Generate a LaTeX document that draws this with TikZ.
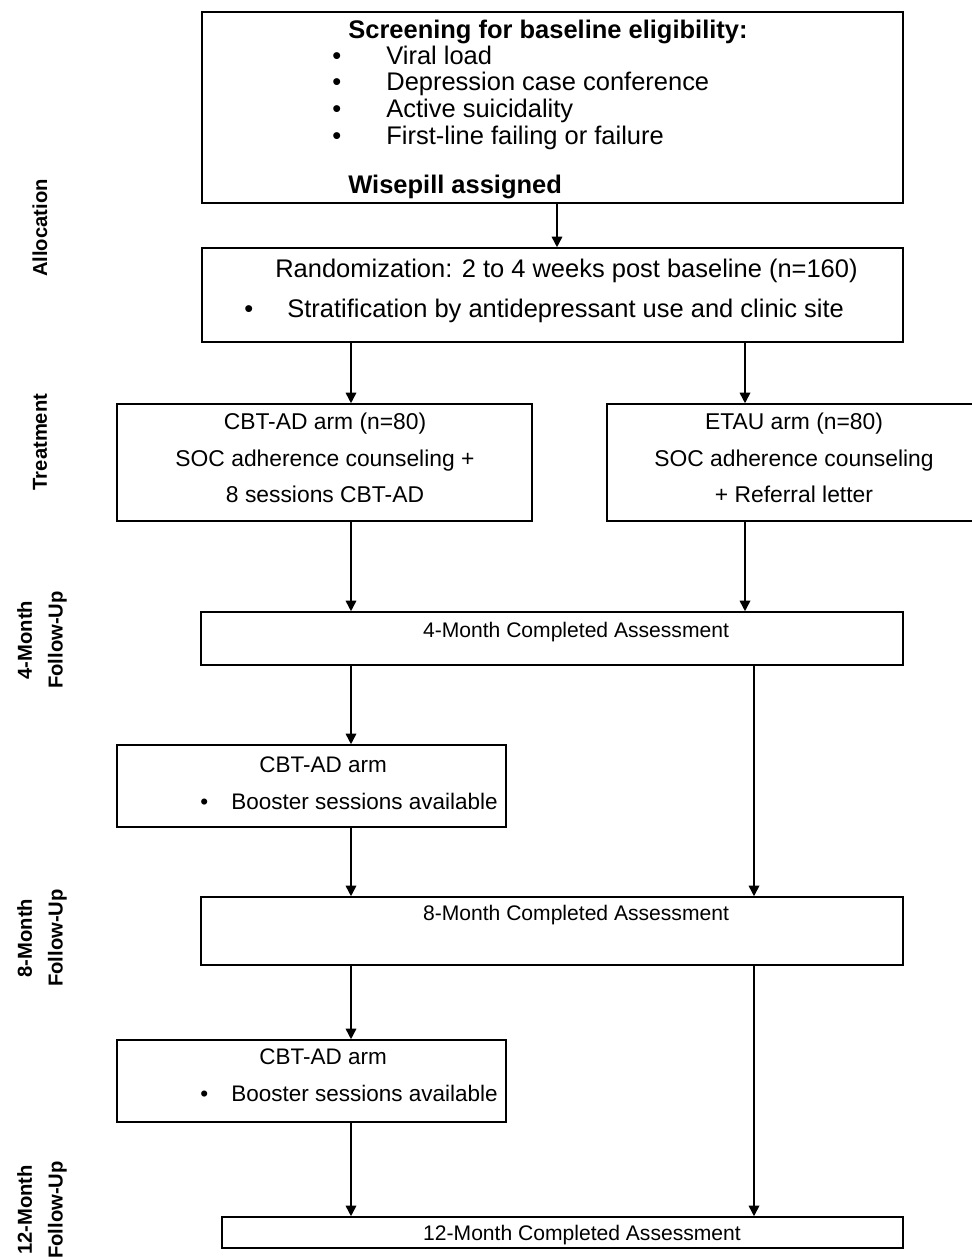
\documentclass[tikz,border=0pt]{standalone}
\usepackage{fontspec}
\setmainfont{Liberation Sans}
\usetikzlibrary{arrows.meta,positioning}

\begin{document}
\begin{tikzpicture}[x=0.02cm, y=-0.02cm,
    box/.style={rectangle, draw=black, line width=0.9pt, inner sep=0pt},
    txt/.style={inner sep=0pt, anchor=base west, font=\fontsize{14.5}{17}\selectfont},
    bold/.style={txt, font=\bfseries\fontsize{14.5}{17}\selectfont},
    small/.style={txt, font=\fontsize{12.8}{15}\selectfont},
    armtxt/.style={inner sep=0pt, align=center, font=\fontsize{13}{20.7}\selectfont},
    asstxt/.style={inner sep=0pt, font=\fontsize{12}{14}\selectfont},
    phase/.style={rotate=90, align=center, inner sep=0pt,
                  font=\bfseries\fontsize{11.5}{17.5}\selectfont},
    arrow/.style={-{Triangle[length=6pt, width=6pt]}, line width=0.9pt}
]
\path[use as bounding box, clip] (0,0) rectangle (972,1257);

% Columns of the arrows
\coordinate (colM) at (557,0);
\coordinate (colL) at (351,0);
\coordinate (colR) at (745,0);
\coordinate (colRR) at (754,0);

% Screening
\node[box, minimum width=14.02cm, minimum height=3.82cm] (screen) at (552.5,107.5) {};
\node[bold] (screentitle) at (348,39) {Screening for baseline eligibility:};
\node[txt] (dot1) at (332,65) {\textbullet};
\node[txt] (crit1) at (386,65) {Viral load};
\node[txt] (dot2) at (332,91) {\textbullet};
\node[txt] (crit2) at (386,91) {Depression case conference};
\node[txt] (dot3) at (332,117) {\textbullet};
\node[txt] (crit3) at (386,117) {Active suicidality};
\node[txt] (dot4) at (332,144) {\textbullet};
\node[txt] (crit4) at (386,144) {First-line failing or failure};
\node[bold] (wisepill) at (348,193) {Wisepill assigned};

% Randomization
\node[box, minimum width=14.02cm, minimum height=1.88cm] (rand) at (552.5,295) {};
\node[txt] (randtitle) at (275,277)
    {Randomization: 2 to 4 weeks post baseline (n=160)};
\node[txt] (dot5) at (244,317) {\textbullet};
\node[txt] (strat) at (287,317)
    {Stratification by antidepressant use and clinic site};

% Treatment arms
\node[box, minimum width=8.30cm, minimum height=2.34cm] (cbt) at (324.5,462.5) {};
\node[armtxt] (cbttxt) at (325,458)
    {CBT-AD arm (n=80)\\SOC adherence counseling +\\8 sessions CBT-AD};
\node[box, minimum width=7.48cm, minimum height=2.34cm] (etau) at (794,462.5) {};
\node[armtxt] (etautxt) at (794,458)
    {ETAU arm (n=80)\\SOC adherence counseling\\+ Referral letter};

% 4-Month
\node[box, minimum width=14.04cm, minimum height=1.06cm] (m4) at (552,638.5) {};
\node[asstxt] (m4txt) at (576,632) {4-Month Completed Assessment};

% Booster 1
\node[box, minimum width=7.78cm, minimum height=1.64cm] (boostA) at (311.5,786) {};
\node[small] (boostAtitle) at (259,772) {CBT-AD arm};
\node[small] (dot6) at (200,809) {\textbullet};
\node[small] (boostAtxt) at (231,809) {Booster sessions available};

% 8-Month
\node[box, minimum width=14.04cm, minimum height=1.36cm] (m8) at (552,931) {};
\node[asstxt] (m8txt) at (576,915) {8-Month Completed Assessment};

% Booster 2
\node[box, minimum width=7.78cm, minimum height=1.64cm] (boostB) at (311.5,1081) {};
\node[small] (boostBtitle) at (259,1064) {CBT-AD arm};
\node[small] (dot7) at (200,1101) {\textbullet};
\node[small] (boostBtxt) at (231,1101) {Booster sessions available};

% 12-Month
\node[box, minimum width=13.62cm, minimum height=0.62cm] (m12) at (562.5,1232.5) {};
\node[asstxt] (m12txt) at (582,1235) {12-Month Completed Assessment};

% Phases
\node[phase] (allocation) at (40,228) {Allocation};
\node[phase] (treatment) at (40,442) {Treatment};
\node[phase] (fu4) at (42,640) {4-Month\\Follow-Up};
\node[phase] (fu8) at (42,938) {8-Month\\Follow-Up};
\node[phase] (fu12) at (42,1210) {12-Month\\Follow-Up};

% Arrows
\draw[arrow] (screen.south -| colM) -- (rand.north -| colM);
\draw[arrow] (rand.south -| colL) -- (cbt.north -| colL);
\draw[arrow] (rand.south -| colR) -- (etau.north -| colR);
\draw[arrow] (cbt.south -| colL) -- (m4.north -| colL);
\draw[arrow] (etau.south -| colR) -- (m4.north -| colR);
\draw[arrow] (m4.south -| colL) -- (boostA.north -| colL);
\draw[arrow] (m4.south -| colRR) -- (m8.north -| colRR);
\draw[arrow] (boostA.south -| colL) -- (m8.north -| colL);
\draw[arrow] (m8.south -| colL) -- (boostB.north -| colL);
\draw[arrow] (m8.south -| colRR) -- (m12.north -| colRR);
\draw[arrow] (boostB.south -| colL) -- (m12.north -| colL);

\end{tikzpicture}
\end{document}
